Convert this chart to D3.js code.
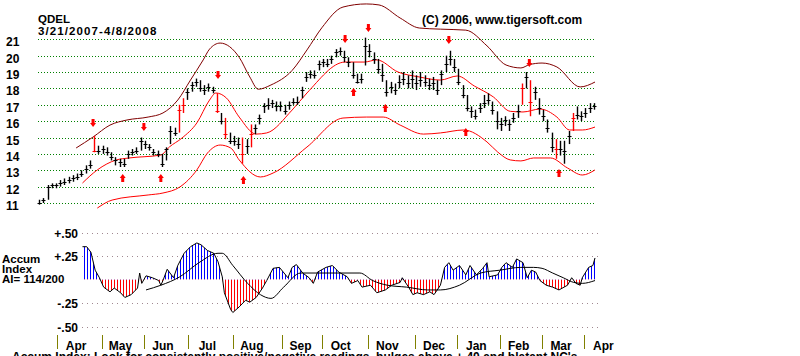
<!DOCTYPE html>
<html><head><meta charset="utf-8">
<script src="https://cdn.jsdelivr.net/npm/d3@7"></script>
<style>
body{margin:0;background:#fff;}
text{font-family:"Liberation Sans",Arial,sans-serif;font-weight:bold;fill:#000;}
</style>
</head><body>
<svg id="c" width="800" height="356"></svg>
<script>
// ---------------- DATA ----------------
const ticker = "QDEL";
const dateRange = "3/21/2007-4/8/2008";
const copyright = "(C) 2006, www.tigersoft.com";
const lastDay = 263;               // trading days 0..263
const priceTicks = [11,12,13,14,15,16,17,18,19,20,21];
const aiTicks = [0.5,0.25,-0.25,-0.5];
const aiTickLabels = ["+.50","+.25","-.25","-.50"];
const monthDays = [9,30,50,71,92,115,134,156,178,198,218,238,258];
const monthNames = ["Apr","May","Jun","Jul","Aug","Sep","Oct","Nov","Dec","Jan","Feb","Mar","Apr"];

// bars: one per two trading days
const barClose = [11.0,11.2,12.0,12.1,12.1,12.2,12.3,12.4,12.5,12.6,12.8,13.1,13.3,14.2,14.2,14.3,14.1,13.8,13.6,13.5,
13.4,14.0,14.1,14.2,14.8,14.6,14.4,14.1,14.0,13.4,14.3,15.4,15.3,16.7,17.0,17.8,18.2,18.4,18.0,17.9,
18.1,17.9,16.6,16.0,15.2,14.8,14.8,14.6,14.0,14.5,15.2,15.6,16.2,16.9,17.0,17.1,16.9,16.9,16.6,17.0,
17.2,17.2,17.9,18.7,18.9,18.8,19.5,19.6,19.5,19.8,20.2,20.3,19.9,19.6,18.8,18.4,18.6,20.6,20.3,19.8,
19.2,18.8,17.8,18.1,17.9,18.4,18.6,18.3,18.6,18.3,18.5,18.4,18.2,18.3,17.9,18.9,19.5,19.8,19.3,18.4,
17.6,16.8,16.6,16.3,16.8,17.1,17.3,16.7,16.0,15.8,16.1,15.8,16.2,16.6,18.0,18.7,17.2,17.8,16.8,16.3,
15.6,14.4,14.3,14.3,14.2,15.1,16.2,16.4,16.3,16.5,16.8,16.9];
const barHigh = [11.2,11.3,12.1,12.2,12.2,12.4,12.5,12.6,12.7,12.8,13.0,13.3,13.6,15.1,14.5,14.5,14.4,14.1,13.8,13.7,
13.7,14.2,14.3,14.4,15.0,14.8,14.6,14.3,14.2,14.0,14.4,15.7,15.6,17.0,17.4,18.0,18.4,18.6,18.5,18.2,
18.3,18.1,17.7,16.5,16.2,15.3,15.1,15.0,15.0,14.9,15.8,15.8,16.4,17.1,17.4,17.3,17.2,17.2,17.0,17.2,
17.4,17.5,18.1,19.0,19.1,19.1,19.7,19.8,19.8,20.0,20.4,20.5,20.3,19.9,19.6,18.9,18.9,21.1,20.7,20.2,
19.8,19.5,18.5,18.4,18.3,18.8,19.0,18.8,19.1,18.8,19.0,18.8,18.6,18.7,18.5,19.1,20.0,20.3,19.8,19.2,
18.2,17.6,16.9,16.7,17.1,17.6,17.7,17.2,16.6,16.2,16.3,16.1,16.5,17.0,18.3,19.0,18.5,18.1,17.4,16.7,
16.1,15.3,14.9,14.8,14.8,15.4,16.5,16.9,16.6,16.8,17.1,17.1];
const barLow = [10.9,11.0,11.2,11.9,11.9,12.0,12.1,12.2,12.3,12.4,12.6,12.8,13.1,14.1,14.0,14.0,13.9,13.6,13.3,13.2,
13.2,13.7,13.9,14.0,14.2,14.3,14.2,13.9,13.8,13.2,13.6,14.6,15.1,15.3,16.5,17.3,17.8,18.1,17.8,17.6,
17.8,17.7,16.5,15.8,14.9,14.6,14.5,14.3,13.4,14.0,14.4,15.2,15.8,16.5,16.7,16.8,16.6,16.6,16.4,16.7,
17.0,17.0,17.4,18.4,18.6,18.6,19.1,19.3,19.3,19.5,19.9,20.0,19.6,19.3,18.6,18.3,18.3,19.4,19.9,19.5,
18.9,18.4,17.5,17.7,17.6,18.0,18.2,18.0,18.0,17.9,18.1,18.1,17.9,17.9,17.6,18.2,19.0,19.4,19.0,18.2,
17.4,16.6,16.2,16.1,16.5,16.8,17.0,16.4,15.5,15.4,15.7,15.4,15.9,16.2,17.0,18.0,16.3,17.3,16.4,16.0,
15.3,14.1,13.7,13.9,13.4,14.6,15.4,16.1,16.0,16.2,16.5,16.7];
const redBars = [13,33,34,42,44,48,50,114,116,122,126];

// bands
const upperDays = [18,26,34,42,52,59,66,72,78,81,86,95,100,104,110,120,127,134,144,155,161,171,180,190,202,212,221,228,232,238,245,256,263];
const upperVals = [14.36,15.03,15.76,16.07,16.25,16.50,17.29,18.51,19.74,20.4,20.77,19.9,18.7,17.95,18.21,19.1,20.35,21.7,22.97,23.16,23.10,22.30,21.69,21.62,21.56,20.6,19.43,19.25,19.45,19.55,19.31,18.09,18.39];
const midDays = [21,28,37,43,58,62,68,75,81,84,89,95,103,108,120,127,145,154,160,170,180,190,198,206,215,223,229,237,245,251,257,263];
const midVals = [12.22,13.02,13.63,13.75,13.93,14.42,14.97,15.89,17.29,17.72,17.41,16.25,15.21,15.28,16.68,17.72,19.61,19.61,19.74,19.0,18.7,18.51,18.76,18.15,17.48,16.6,16.56,16.74,16.25,15.46,15.46,15.64];
const lowDays = [28,35,52,59,67,75,80,86,91,95,105,111,127,144,155,163,171,182,190,201,212,217,223,228,234,242,250,257,263];
const lowVals = [10.69,11.18,11.49,11.61,11.98,13.02,14.05,14.54,14.36,13.63,12.59,12.83,14.42,16.19,16.25,16.25,15.76,15.21,15.28,15.46,14.73,14.12,13.63,13.57,13.75,13.75,13.14,12.71,13.02];

// signal arrows
const sellDays = [26,50,85,145,156,194,232];
const sellLevels = [15.89,15.64,18.82,21.02,21.69,20.96,19.55];
const buyDays = [40,58,97,149,164,202,246];
const buyLevels = [12.53,12.53,12.4,17.78,16.80,15.34,12.83];

// accumulation index
const aiDays = [21,23,25,27,29,31,34,36,39,41,44,47,48,49,51,54,57,58,59,61,62,64,66,69,72,75,77,80,83,85,87,88,91,92,95,98,100,103,106,108,
111,114,118,120,122,125,128,130,132,136,139,142,146,148,151,153,157,160,164,167,171,172,175,177,179,182,185,187,190,192,194,196,199,202,204,207,210,212,213,217,
219,221,224,226,229,231,233,235,237,240,243,246,250,252,254,256,257,260,262,263];
const aiVals = [0.35,0.35,0.29,0.10,0.02,-0.08,-0.13,-0.09,-0.14,-0.19,-0.16,-0.09,0.07,-0.04,0.04,0.02,-0.01,-0.06,-0.01,0.11,0.08,0.02,0.15,0.28,0.35,0.39,0.37,0.31,0.28,0.19,0.03,-0.14,-0.32,-0.35,-0.29,-0.22,-0.24,-0.19,-0.09,-0.01,
0.12,0.13,0.02,0.13,0.16,0.07,0.02,-0.04,0.08,0.13,0.15,0.08,0.03,-0.04,-0.01,-0.08,-0.06,-0.14,-0.11,-0.06,-0.03,0.02,-0.08,-0.16,-0.14,-0.16,-0.13,-0.16,-0.06,0.13,0.18,0.10,0.15,0.05,0.15,0.05,0.12,0.18,0.03,0.05,
0.13,0.18,0.13,0.22,0.18,0.02,0.10,0.08,-0.01,-0.06,-0.08,-0.11,-0.06,0.02,-0.04,-0.06,0.02,0.13,0.15,0.23];
const aiMaDays = [51,58,67,76,85,87,92,99,105,110,116,124,136,152,158,165,174,184,190,199,209,218,228,234,238,243,248,253,257,263];
const aiMaVals = [-0.11,-0.06,0.03,0.18,0.28,0.28,0.15,-0.04,-0.16,-0.20,-0.08,0.07,0.07,0.07,-0.01,-0.06,-0.08,-0.11,-0.11,-0.06,0.07,0.10,0.13,0.13,0.12,0.07,0.02,-0.03,-0.04,-0.01];
const aiScore = "AI= 114/200";
const footnote = "Accum Index: Look for consistently positive/negative readings, bulges above +.40 and blatant NC's";

// ---------------- DRAW ----------------
const svg = d3.select("#c");
const x = d3.scaleLinear().domain([0, lastDay]).range([38, 595]);
const y = d3.scaleLinear().domain([11, 21]).range([203, 39.3]);
const ay = d3.scaleLinear().domain([-0.5, 0.5]).range([326.6, 232.6]);

const defs = svg.append("defs");
function hatch(id, color){
  const p = defs.append("pattern").attr("id", id).attr("patternUnits","userSpaceOnUse")
    .attr("width", 3).attr("height", 4);
  p.append("rect").attr("x",0).attr("y",0).attr("width",1).attr("height",4).attr("fill",color);
}
hatch("hb", "#0000ff");
hatch("hr", "#ff0000");
defs.append("clipPath").attr("id","cpos").append("rect").attr("x",0).attr("y",0).attr("width",800).attr("height",ay(0));
defs.append("clipPath").attr("id","cneg").append("rect").attr("x",0).attr("y",ay(0)).attr("width",800).attr("height",356-ay(0));

// titles
svg.append("text").attr("x",38).attr("y",23).attr("font-size",11.5).text(ticker);
svg.append("text").attr("x",38).attr("y",35).attr("font-size",11.5).attr("letter-spacing",1.1).text(dateRange);
svg.append("text").attr("x",422).attr("y",24).attr("font-size",12).text(copyright);

// price gridlines + labels
svg.append("g").selectAll("line").data(priceTicks).join("line")
  .attr("x1",38).attr("x2",596).attr("y1",d=>Math.round(y(d))+0.5).attr("y2",d=>Math.round(y(d))+0.5)
  .attr("stroke","#008000").attr("stroke-width",1).attr("stroke-dasharray","1,2");
svg.append("g").selectAll("text").data(priceTicks).join("text")
  .attr("x",6).attr("y",d=>y(d)+7).attr("font-size",12).text(d=>d);

// bands
function bandLine(days, vals, color){
  const pts = days.map((d,i)=>[x(d), y(vals[i])]);
  svg.append("path").attr("d", d3.line().curve(d3.curveMonotoneX)(pts))
    .attr("fill","none").attr("stroke",color).attr("stroke-width",1);
}
bandLine(upperDays, upperVals, "#800000");
bandLine(midDays, midVals, "#ff0000");
bandLine(lowDays, lowVals, "#ff0000");

// price bars
const bars = barClose.map((c,i)=>({day: 2*i+0.5, c, h: barHigh[i], l: barLow[i], red: redBars.includes(i)}));
const gb = svg.append("g");
gb.selectAll("line.hl").data(bars).join("line").attr("class","hl")
  .attr("x1",d=>Math.round(x(d.day))+0.5).attr("x2",d=>Math.round(x(d.day))+0.5)
  .attr("y1",d=>y(d.h)).attr("y2",d=>y(d.l))
  .attr("stroke",d=>d.red?"#ff0000":"#000").attr("stroke-width",1.4);
gb.selectAll("line.cl").data(bars).join("line").attr("class","cl")
  .attr("x1",d=>Math.round(x(d.day))-1.5).attr("x2",d=>Math.round(x(d.day))+2.5)
  .attr("y1",d=>Math.round(y(d.c))+0.5).attr("y2",d=>Math.round(y(d.c))+0.5)
  .attr("stroke",d=>d.red?"#ff0000":"#000").attr("stroke-width",1);

// arrows
function arrow(cx, cy, dir){ // dir 1 = down, -1 = up
  const s = dir;
  return `M${cx-1.5},${cy-4*s} L${cx+1.5},${cy-4*s} L${cx+1.5},${cy} L${cx+3},${cy} L${cx},${cy+4*s} L${cx-3},${cy} L${cx-1.5},${cy} Z`;
}
svg.append("g").selectAll("path").data(sellDays).join("path")
  .attr("d",(d,i)=>arrow(x(d), y(sellLevels[i]), 1)).attr("fill","#ff0000");
svg.append("g").selectAll("path").data(buyDays).join("path")
  .attr("d",(d,i)=>arrow(x(d), y(buyLevels[i]), -1)).attr("fill","#ff0000");

// AI panel gridlines + labels
svg.append("g").selectAll("line").data(aiTicks).join("line")
  .attr("x1",82).attr("x2",598).attr("y1",d=>Math.round(ay(d))+0.5).attr("y2",d=>Math.round(ay(d))+0.5)
  .attr("stroke","#a08890").attr("stroke-width",1).attr("stroke-dasharray","1,4");
svg.append("g").selectAll("text").data(aiTicks).join("text")
  .attr("x",78).attr("y",d=>ay(d)+5).attr("text-anchor","end").attr("font-size",12)
  .text((d,i)=>aiTickLabels[i]);
svg.append("text").attr("x",2).attr("y",263).attr("font-size",11.5).text("Accum");
svg.append("text").attr("x",2).attr("y",273).attr("font-size",11.5).text("Index");
svg.append("text").attr("x",2).attr("y",283).attr("font-size",11.5).text(aiScore);

const aiData = aiDays.map((d,i)=>({day:d, v:aiVals[i]}));
const area = d3.area().x(d=>x(d.day)).y0(ay(0)).y1(d=>ay(d.v));
svg.append("path").attr("d",area(aiData)).attr("fill","url(#hb)").attr("clip-path","url(#cpos)");
svg.append("path").attr("d",area(aiData)).attr("fill","url(#hr)").attr("clip-path","url(#cneg)");
svg.append("path").attr("d",d3.line().x(d=>x(d.day)).y(d=>ay(d.v))(aiData))
  .attr("fill","none").attr("stroke","#000").attr("stroke-width",1);
const maData = aiMaDays.map((d,i)=>({day:d, v:aiMaVals[i]}));
svg.append("path").attr("d",d3.line().curve(d3.curveMonotoneX).x(d=>x(d.day)).y(d=>ay(d.v))(maData))
  .attr("fill","none").attr("stroke","#000").attr("stroke-width",1);

// month axis
svg.append("g").selectAll("line").data(monthDays).join("line")
  .attr("x1",d=>Math.round(x(d))+0.5).attr("x2",d=>Math.round(x(d))+0.5).attr("y1",335).attr("y2",349)
  .attr("stroke","#808000").attr("stroke-width",1);
svg.append("g").selectAll("text").data(monthDays).join("text")
  .attr("x",d=>x(d)+19).attr("y",350).attr("text-anchor","middle").attr("font-size",12)
  .text((d,i)=>monthNames[i]);

svg.append("text").attr("x",12).attr("y",361).attr("font-size",12).text(footnote);
</script>
</body></html>
